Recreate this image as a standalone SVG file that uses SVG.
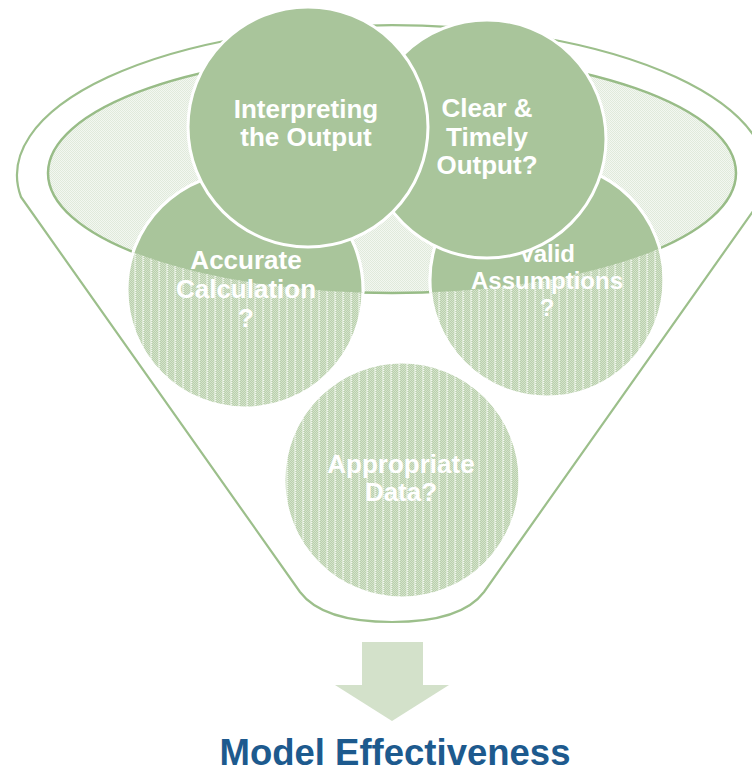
<svg xmlns="http://www.w3.org/2000/svg" width="752" height="773" viewBox="0 0 752 773">
<style>
  .lbl { font-family: "Liberation Sans", Arial, sans-serif; font-weight: bold; fill: #ffffff; text-anchor: middle; }
  .solid { fill: #a9c59b; stroke: #ffffff; stroke-width: 3; }
  .hatched { fill: url(#hatch); stroke: #ffffff; stroke-width: 3; }
  .outline { fill: #ffffff; stroke: #9cbf8b; stroke-width: 2.2; stroke-linejoin: round; }
</style>
<defs>
  <pattern id="hatch" width="8" height="2" patternUnits="userSpaceOnUse">
    <rect width="8" height="2" fill="#bad0ad"/>
    <path d="M0,0h1v1h-1zM2,0h1v1h-1zM4,0h1v1h-1zM1,1h1v1h-1zM3,1h1v1h-1zM5,1h1v1h-1z" fill="#d3e2ca"/>
    <rect x="6" y="0" width="1" height="2" fill="#dde9d6"/>
    <rect x="7" y="0" width="1" height="1" fill="#f2f7ef"/>
    <rect x="7" y="1" width="1" height="1" fill="#cadbc0"/>
  </pattern>
  <pattern id="light" width="2" height="2" patternUnits="userSpaceOnUse">
    <rect width="2" height="2" fill="#f3f7f1"/>
    <rect x="0" y="0" width="1" height="1" fill="#e0eadb"/>
    <rect x="1" y="1" width="1" height="1" fill="#e0eadb"/>
  </pattern>
  <clipPath id="mouth">
    <ellipse cx="392" cy="173" rx="344" ry="120"/>
  </clipPath>
</defs>

<g id="funnel">
  <path class="outline" d="M21,197 A375,150 0 1 1 763,197 L484,592 C466,616 426,622 392,622 C358,622 318,616 300,592 Z"/>
  <ellipse cx="392" cy="173" rx="344" ry="120" fill="url(#light)" stroke="#98bc87" stroke-width="2.5"/>
</g>

<g id="node-appropriate-data">
  <circle class="hatched" cx="402" cy="480" r="118"/>
  <text class="lbl" font-size="26"><tspan x="401" y="473">Appropriate</tspan><tspan x="401" y="501">Data?</tspan></text>
</g>

<g id="node-accurate-calculation">
  <circle class="hatched" cx="245" cy="290" r="118"/>
  <circle class="solid" cx="245" cy="290" r="118" clip-path="url(#mouth)"/>
  <text class="lbl" font-size="26"><tspan x="246" y="269">Accurate</tspan><tspan x="246" y="298">Calculation</tspan><tspan x="246" y="327">?</tspan></text>
</g>

<g id="node-valid-assumptions">
  <circle class="hatched" cx="547" cy="280" r="117"/>
  <circle class="solid" cx="547" cy="280" r="117" clip-path="url(#mouth)"/>
  <text class="lbl" font-size="24"><tspan x="547" y="262">Valid</tspan><tspan x="547" y="289">Assumptions</tspan><tspan x="547" y="316">?</tspan></text>
</g>

<g id="node-clear-timely-output">
  <circle class="solid" cx="487" cy="139" r="119"/>
  <text class="lbl" font-size="26"><tspan x="487" y="117">Clear &amp;</tspan><tspan x="487" y="146">Timely</tspan><tspan x="487" y="174">Output?</tspan></text>
</g>

<g id="node-interpreting-output">
  <circle class="solid" cx="308" cy="127" r="120"/>
  <text class="lbl" font-size="26"><tspan x="306" y="118">Interpreting</tspan><tspan x="306" y="146">the Output</tspan></text>
</g>

<g id="connectors">
  <path d="M362,642 H423 V685 H449 L392,721 L335,685 H362 Z" fill="#d3e1ca"/>
</g>

<g id="node-model-effectiveness">
  <text x="395" y="765" font-family="Liberation Sans, Arial, sans-serif" font-weight="bold" font-size="36.5" fill="#1d5a8e" text-anchor="middle">Model Effectiveness</text>
</g>
</svg>
